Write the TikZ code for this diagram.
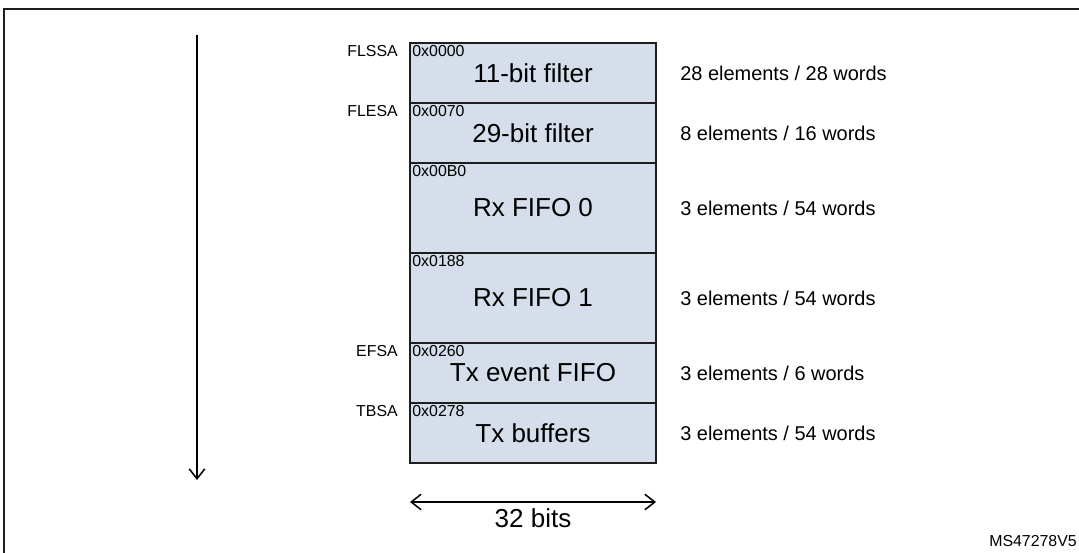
\documentclass[tikz,border=0pt]{standalone}
\usepackage{fontspec}
\setmainfont{Liberation Sans}
\usetikzlibrary{positioning,arrows.meta}
\definecolor{ramfill}{RGB}{213,222,234}
\definecolor{ramline}{RGB}{30,30,30}
\tikzset{
	ramrow/.style={draw=ramline, line width=1.4pt, fill=ramfill, minimum width=6.15cm, inner sep=0pt, outer sep=0pt, font=\fontsize{18.5}{22}\selectfont},
	addr/.style={anchor=north west, inner sep=1.5pt, font=\fontsize{11.3}{13}\selectfont},
	ptr/.style={anchor=east, inner sep=0pt, font=\fontsize{11.3}{13}\selectfont},
	elemtxt/.style={inner sep=0pt, font=\fontsize{14.2}{17}\selectfont},
	ramarrow/.style={line width=1.1pt, {Straight Barb[length=7pt,width=11pt]}-{Straight Barb[length=7pt,width=11pt]}},
	downarrow/.style={line width=1.1pt, -{Straight Barb[length=7pt,width=11pt]}}
}
\begin{document}
		\begin{tikzpicture}
			\useasboundingbox (0,0) rectangle (26.975,-13.825);
			\draw[line width=1.4pt, ramline] (26.975,-0.225) -| (0.1,-13.825);
			% memory rows
			\node[ramrow, anchor=north, minimum height=1.5cm] (flt11) at (13.325,-1.075) {11-bit filter};
			\node[ramrow, minimum height=1.5cm, below=0pt of flt11] (flt29) {29-bit filter};
			\node[ramrow, minimum height=2.25cm, below=0pt of flt29] (rxf0) {Rx FIFO 0};
			\node[ramrow, minimum height=2.25cm, below=0pt of rxf0] (rxf1) {Rx FIFO 1};
			\node[ramrow, minimum height=1.5cm, below=0pt of rxf1] (txev) {Tx event FIFO};
			\node[ramrow, minimum height=1.5cm, below=0pt of txev] (txbuf) {Tx buffers};
			% start addresses
			\node[addr] (a1) at (flt11.north west) {0x0000};
			\node[addr] (a2) at (flt29.north west) {0x0070};
			\node[addr] (a3) at (rxf0.north west) {0x00B0};
			\node[addr] (a4) at (rxf1.north west) {0x0188};
			\node[addr] (a5) at (txev.north west) {0x0260};
			\node[addr] (a6) at (txbuf.north west) {0x0278};
			\node[ptr] (flssa) at ([xshift=-0.3cm]a1.west) {FLSSA};
			\node[ptr] (flesa) at ([xshift=-0.3cm]a2.west) {FLESA};
			\node[ptr] (efsa) at ([xshift=-0.3cm]a5.west) {EFSA};
			\node[ptr] (tbsa) at ([xshift=-0.3cm]a6.west) {TBSA};
			% sizes
			\node[elemtxt, right=0.6cm of flt11] (n1) {28 elements / 28 words};
			\node[elemtxt, right=0.6cm of flt29] (n2) {8 elements / 16 words};
			\node[elemtxt, right=0.6cm of rxf0] (n3) {3 elements / 54 words};
			\node[elemtxt, right=0.6cm of rxf1] (n4) {3 elements / 54 words};
			\node[elemtxt, right=0.6cm of txev] (n5) {3 elements / 6 words};
			\node[elemtxt, right=0.6cm of txbuf] (n6) {3 elements / 54 words};
			% address direction
			\coordinate (dtop) at (4.925,-0.875);
			\coordinate (dbot) at (4.925,-12.0);
			\draw[downarrow] (dtop) -- (dbot);
			% width
			\coordinate (wl) at ([yshift=-0.975cm]txbuf.south west);
			\coordinate (wr) at ([yshift=-0.975cm]txbuf.south east);
			\draw[ramarrow] (wl) -- (wr) node[midway, below=0.15cm, inner sep=0pt, font=\fontsize{18.5}{22}\selectfont] (wlbl) {32 bits};
			\node[anchor=east, inner sep=0pt, font=\fontsize{11.3}{13}\selectfont] (ref) at (26.925,-13.525) {MS47278V5};
		\end{tikzpicture}
\end{document}
